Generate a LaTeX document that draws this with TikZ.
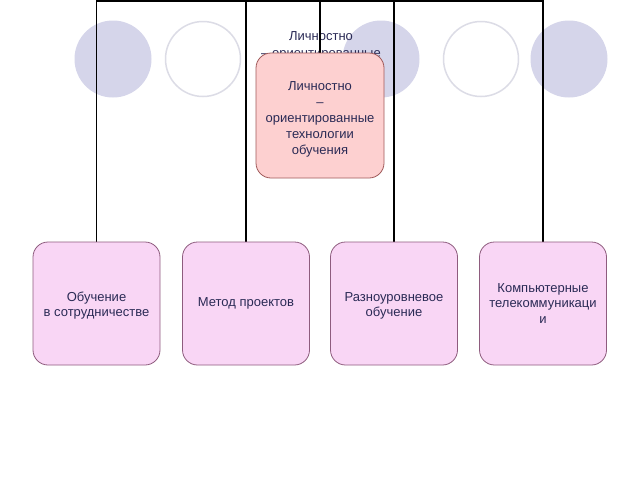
\documentclass[tikz,border=0pt]{standalone}
\usepackage{fontspec}
\setmainfont{Liberation Sans}
\definecolor{circfill}{HTML}{D5D5EA}
\definecolor{circline}{HTML}{DCDCE6}
\definecolor{txtcol}{HTML}{2A2A55}
\definecolor{botfill}{HTML}{F9D6F5}
\definecolor{botline}{HTML}{8E5C7E}
\definecolor{topfill}{HTML}{FDD0D0}
\definecolor{topline}{HTML}{A05A5A}
\pgfdeclarelayer{bgl}
\pgfdeclarelayer{lines}
\pgfsetlayers{bgl,lines,main}
\begin{document}
\begin{tikzpicture}[x=1pt,y=-1pt,
  fcirc/.style={circle,fill=circfill,minimum size=77pt,inner sep=0pt},
  ocirc/.style={circle,draw=circline,line width=1.5pt,minimum size=75pt,inner sep=0pt},
  botbox/.style={draw=botline,fill=botfill,rounded corners=15pt,minimum width=127pt,minimum height=123pt,inner sep=0pt,align=center,text=txtcol,font=\fontsize{13}{15.5}\selectfont,line width=0.8pt},
  topbox/.style={draw=topline,fill=topfill,rounded corners=15pt,minimum width=128pt,minimum height=125pt,inner sep=0pt,align=center,text=txtcol,font=\fontsize{13}{16}\selectfont,line width=0.8pt},
  conn/.style={draw=black,line width=1.4pt}]
\useasboundingbox (0,0) rectangle (640,480);
\begin{pgfonlayer}{bgl}
\fill[white] (0,0) rectangle (640,480);
\node[fcirc] (c1) at (113,59) {};
\node[ocirc] (c2) at (203,59) {};
\node[fcirc] (c3) at (381,59) {};
\node[ocirc] (c4) at (481,59) {};
\node[fcirc] (c5) at (569,59) {};
\node[align=center,text=txtcol,font=\fontsize{13}{17}\selectfont] (bg) at (321,46) {Личностно\\– ориентированные};
\end{pgfonlayer}
\coordinate (top) at (0,1);
\node[topbox] (c) at (320,115.5) {\rule{0pt}{17.5pt}Личностно\\–\\ориентированные\\технологии\\обучения};
\node[botbox] (b1) at (96.5,303.5) {\rule{0pt}{13.5pt}Обучение\\в сотрудничестве};
\node[botbox] (b2) at (246,303.5) {Метод проектов};
\node[botbox] (b3) at (394,303.5) {\rule{0pt}{13.5pt}Разноуровневое\\обучение};
\node[botbox] (b4) at (543,303.5) {Компьютерные\\телекоммуникаци\\и};
\begin{pgfonlayer}{lines}
\draw[conn] (b1.north) -- (b1.north |- top) -- (b4.north |- top) -- (b4.north);
\draw[conn] (b2.north) -- (b2.north |- top);
\draw[conn] (b3.north) -- (b3.north |- top);
\draw[black,line width=2.2pt] (c.north) -- (c.north |- 0,0);
\end{pgfonlayer}
\end{tikzpicture}
\end{document}
